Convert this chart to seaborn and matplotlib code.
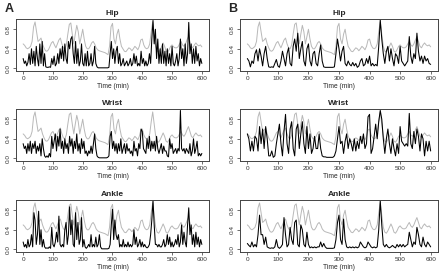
import numpy as np
import pandas as pd
import matplotlib
matplotlib.use("Agg")
import matplotlib.pyplot as plt
import seaborn as sns

# time grids (min)
t_fine = np.arange(0, 601, 4)    # column A, 4-min steps
t_coarse = np.arange(0, 601, 5)  # column B and reference, 5-min steps

# reference signal (grey), same in every panel
reference = [
    0.50, 0.47, 0.42, 0.40, 0.42, 0.45, 0.55, 0.85, 0.95, 0.75,  # 0-45
    0.55, 0.58, 0.62, 0.50, 0.42, 0.36, 0.35, 0.38, 0.45, 0.52,  # 50-95
    0.55, 0.48, 0.42, 0.50, 0.58, 0.62, 0.50, 0.42, 0.40, 0.48,  # 100-145
    0.70, 0.90, 0.93, 0.70, 0.50, 0.70, 0.88, 0.75, 0.50, 0.65,  # 150-195
    0.80, 0.60, 0.45, 0.40, 0.40, 0.45, 0.52, 0.55, 0.50, 0.42,  # 200-245
    0.38, 0.36, 0.35, 0.34, 0.33, 0.32, 0.30, 0.28, 0.45, 0.85,  # 250-295
    0.92, 0.60, 0.50, 0.70, 0.80, 0.60, 0.45, 0.40, 0.35, 0.34,  # 300-345
    0.38, 0.42, 0.40, 0.36, 0.40, 0.45, 0.42, 0.38, 0.45, 0.58,  # 350-395
    0.60, 0.48, 0.42, 0.40, 0.42, 0.50, 0.75, 0.95, 0.70, 0.45,  # 400-445
    0.35, 0.33, 0.38, 0.45, 0.52, 0.45, 0.35, 0.33, 0.38, 0.45,  # 450-495
    0.48, 0.44, 0.42, 0.42, 0.44, 0.50, 0.55, 0.48, 0.45, 0.50,  # 500-545
    0.58, 0.65, 0.55, 0.45, 0.42, 0.48, 0.52, 0.48, 0.46, 0.48,  # 550-595
    0.44,
]

# column A (4-min steps)
a_hip = [
    0.20, 0.10, 0.15, 0.05, 0.12, 0.30, 0.08, 0.40, 0.10, 0.35,
    0.05, 0.45, 0.20, 0.05, 0.50, 0.10, 0.55, 0.05, 0.30, 0.03,
    0.02, 0.02, 0.03, 0.02, 0.20, 0.08, 0.25, 0.05, 0.10, 0.30,
    0.10, 0.40, 0.20, 0.45, 0.15, 0.50, 0.20, 0.10, 0.55, 0.40,
    0.60, 0.65, 0.30, 0.10, 0.55, 0.10, 0.40, 0.05, 0.15, 0.50,
    0.10, 0.05, 0.30, 0.05, 0.35, 0.05, 0.10, 0.30, 0.05, 0.15,
    0.45, 0.10, 0.03, 0.01, 0.01, 0.01, 0.01, 0.01, 0.01, 0.01,
    0.01, 0.01, 0.02, 0.30, 0.55, 0.20, 0.40, 0.10, 0.35, 0.45,
    0.10, 0.30, 0.05, 0.10, 0.20, 0.05, 0.10, 0.15, 0.05, 0.10,
    0.20, 0.05, 0.10, 0.30, 0.10, 0.25, 0.05, 0.10, 0.05, 0.35,
    0.10, 0.20, 0.05, 0.15, 0.05, 0.10, 0.30, 0.10, 0.60, 0.98,
    0.50, 0.80, 0.20, 0.60, 0.10, 0.40, 0.10, 0.50, 0.10, 0.35,
    0.05, 0.40, 0.10, 0.30, 0.05, 0.45, 0.10, 0.05, 0.15, 0.30,
    0.05, 0.20, 0.60, 0.20, 0.40, 0.05, 0.50, 0.10, 0.30, 0.94,
    0.30, 0.50, 0.10, 0.40, 0.10, 0.45, 0.15, 0.30, 0.05, 0.20,
    0.10,
]
a_wrist = [
    0.30, 0.20, 0.25, 0.10, 0.30, 0.15, 0.35, 0.10, 0.30, 0.20,
    0.35, 0.10, 0.25, 0.15, 0.30, 0.05, 0.40, 0.20, 0.05, 0.02,
    0.05, 0.02, 0.10, 0.03, 0.45, 0.20, 0.35, 0.50, 0.15, 0.45,
    0.25, 0.60, 0.20, 0.35, 0.10, 0.40, 0.20, 0.30, 0.10, 0.45,
    0.25, 0.40, 0.10, 0.35, 0.20, 0.50, 0.15, 0.30, 0.10, 0.40,
    0.20, 0.35, 0.10, 0.15, 0.05, 0.15, 0.10, 0.25, 0.10, 0.30,
    0.50, 0.20, 0.05, 0.02, 0.01, 0.01, 0.01, 0.01, 0.01, 0.01,
    0.01, 0.02, 0.05, 0.45, 0.55, 0.20, 0.35, 0.15, 0.30, 0.10,
    0.30, 0.15, 0.40, 0.10, 0.20, 0.30, 0.10, 0.30, 0.15, 0.20,
    0.10, 0.15, 0.05, 0.35, 0.15, 0.20, 0.05, 0.30, 0.20, 0.60,
    0.55, 0.20, 0.15, 0.10, 0.40, 0.20, 0.45, 0.15, 0.35, 0.20,
    0.35, 0.15, 0.45, 0.20, 0.10, 0.20, 0.30, 0.10, 0.25, 0.15,
    0.15, 0.05, 0.03, 0.40, 0.20, 0.30, 0.10, 0.15, 0.20, 0.10,
    0.20, 0.15, 0.98, 0.20, 0.15, 0.20, 0.10, 0.20, 0.15, 0.10,
    0.30, 0.05, 0.15, 0.40, 0.10, 0.20, 0.35, 0.05, 0.10, 0.05,
    0.10,
]
a_ankle = [
    0.15, 0.05, 0.10, 0.03, 0.20, 0.05, 0.10, 0.30, 0.05, 0.75,
    0.60, 0.10, 0.30, 0.78, 0.10, 0.40, 0.05, 0.20, 0.05, 0.02,
    0.03, 0.02, 0.05, 0.02, 0.45, 0.10, 0.05, 0.15, 0.35, 0.15,
    0.68, 0.10, 0.05, 0.10, 0.05, 0.40, 0.55, 0.10, 0.30, 0.87,
    0.30, 0.60, 0.10, 0.05, 0.75, 0.20, 0.55, 0.10, 0.20, 0.65,
    0.05, 0.20, 0.05, 0.02, 0.05, 0.10, 0.05, 0.30, 0.05, 0.10,
    0.05, 0.25, 0.05, 0.10, 0.30, 0.05, 0.01, 0.01, 0.01, 0.01,
    0.01, 0.01, 0.02, 0.10, 0.50, 0.82, 0.20, 0.60, 0.30, 0.20,
    0.30, 0.05, 0.10, 0.05, 0.20, 0.05, 0.10, 0.05, 0.15, 0.05,
    0.10, 0.05, 0.10, 0.40, 0.10, 0.25, 0.05, 0.10, 0.20, 0.05,
    0.15, 0.05, 0.10, 0.05, 0.03, 0.05, 0.10, 0.30, 0.60, 1.00,
    0.50, 0.10, 0.10, 0.05, 0.10, 0.05, 0.05, 0.10, 0.20, 0.05,
    0.10, 0.30, 0.10, 0.25, 0.05, 0.15, 0.05, 0.10, 0.20, 0.10,
    0.30, 0.05, 0.15, 0.50, 0.10, 0.35, 0.15, 0.05, 0.50, 0.85,
    0.30, 0.50, 0.10, 0.30, 0.05, 0.35, 0.10, 0.25, 0.05, 0.20,
    0.10,
]

# column B (5-min steps)
b_hip = [
    0.20, 0.15, 0.03, 0.15, 0.10, 0.30, 0.38, 0.15, 0.40, 0.25,
    0.05, 0.30, 0.45, 0.20, 0.03, 0.02, 0.03, 0.02, 0.10, 0.18,
    0.05, 0.02, 0.15, 0.35, 0.20, 0.05, 0.30, 0.42, 0.10, 0.05,
    0.45, 0.60, 0.35, 0.72, 0.20, 0.40, 0.55, 0.15, 0.05, 0.40,
    0.50, 0.15, 0.05, 0.30, 0.35, 0.10, 0.05, 0.30, 0.48, 0.15,
    0.03, 0.02, 0.02, 0.02, 0.02, 0.02, 0.02, 0.03, 0.30, 0.60,
    0.40, 0.15, 0.35, 0.45, 0.10, 0.05, 0.15, 0.08, 0.05, 0.12,
    0.05, 0.10, 0.02, 0.05, 0.15, 0.20, 0.05, 0.08, 0.20, 0.10,
    0.25, 0.05, 0.10, 0.05, 0.08, 0.05, 0.45, 0.99, 0.60, 0.30,
    0.10, 0.35, 0.45, 0.15, 0.40, 0.20, 0.05, 0.30, 0.25, 0.10,
    0.45, 0.15, 0.10, 0.05, 0.10, 0.15, 0.65, 0.25, 0.10, 0.30,
    0.20, 0.72, 0.35, 0.15, 0.25, 0.10, 0.25, 0.15, 0.20, 0.10,
    0.08,
]
b_wrist = [
    0.50, 0.40, 0.15, 0.35, 0.15, 0.45, 0.40, 0.15, 0.65, 0.30,
    0.60, 0.20, 0.65, 0.40, 0.05, 0.05, 0.15, 0.02, 0.05, 0.30,
    0.50, 0.70, 0.30, 0.05, 0.55, 0.90, 0.30, 0.10, 0.60, 0.75,
    0.20, 0.05, 0.60, 0.70, 0.20, 0.50, 0.75, 0.30, 0.10, 0.65,
    0.20, 0.50, 0.10, 0.20, 0.45, 0.20, 0.20, 0.50, 0.20, 0.05,
    0.03, 0.03, 0.02, 0.02, 0.02, 0.02, 0.02, 0.05, 0.15, 0.40,
    0.65, 0.30, 0.35, 0.10, 0.35, 0.50, 0.20, 0.40, 0.30, 0.15,
    0.40, 0.15, 0.35, 0.20, 0.45, 0.30, 0.50, 0.20, 0.30, 0.85,
    0.90, 0.10, 0.20, 0.45, 0.70, 0.40, 0.75, 0.98, 0.80, 0.40,
    0.10, 0.40, 0.60, 0.30, 0.10, 0.40, 0.20, 0.05, 0.30, 0.10,
    0.65, 0.35, 0.30, 0.25, 0.30, 0.25, 0.92, 0.30, 0.20, 0.55,
    0.30, 0.60, 0.45, 0.15, 0.50, 0.40, 0.05, 0.35, 0.15, 0.35,
    0.15,
]
b_ankle = [
    0.12, 0.08, 0.05, 0.15, 0.05, 0.10, 0.05, 0.30, 0.70, 0.30,
    0.30, 0.10, 0.25, 0.05, 0.03, 0.02, 0.03, 0.02, 0.05, 0.20,
    0.05, 0.02, 0.05, 0.10, 0.65, 0.30, 0.05, 0.10, 0.45, 0.20,
    0.10, 0.55, 0.60, 0.10, 0.05, 0.50, 0.40, 0.10, 0.05, 0.35,
    0.10, 0.03, 0.05, 0.03, 0.05, 0.03, 0.05, 0.05, 0.15, 0.05,
    0.12, 0.05, 0.02, 0.02, 0.02, 0.02, 0.02, 0.03, 0.20, 0.55,
    0.70, 0.20, 0.10, 0.62, 0.20, 0.05, 0.03, 0.05, 0.03, 0.05,
    0.03, 0.05, 0.03, 0.05, 0.15, 0.10, 0.05, 0.03, 0.05, 0.15,
    0.10, 0.05, 0.03, 0.05, 0.03, 0.05, 0.40, 1.00, 0.50, 0.10,
    0.05, 0.10, 0.05, 0.03, 0.05, 0.08, 0.05, 0.03, 0.10, 0.05,
    0.10, 0.05, 0.10, 0.05, 0.08, 0.10, 0.35, 0.20, 0.05, 0.15,
    0.10, 0.45, 0.30, 0.10, 0.05, 0.25, 0.10, 0.05, 0.15, 0.10,
    0.05,
]

sns.set_style("ticks")
plt.rcParams["font.family"] = ["Liberation Sans", "DejaVu Sans"]

fig = plt.figure(figsize=(4.46, 2.78), dpi=100)

lefts = [16 / 446, 240 / 446]
widths = [193 / 446, 198 / 446]
bottoms = [1 - 71 / 278, 1 - 161 / 278, 1 - 252 / 278]
height = 52 / 278

panels = [
    [("Hip", a_hip), ("Wrist", a_wrist), ("Ankle", a_ankle)],
    [("Hip", b_hip), ("Wrist", b_wrist), ("Ankle", b_ankle)],
]
ref_df = pd.DataFrame({"time": t_coarse, "value": reference})

for col in range(2):
    t = t_fine if col == 0 else t_coarse
    for row in range(3):
        name, vals = panels[col][row]
        ax = fig.add_axes([lefts[col], bottoms[row], widths[col], height])
        df = pd.DataFrame({"time": t, "value": vals})
        sns.lineplot(data=ref_df, x="time", y="value", ax=ax,
                     color="#b8b8b8", linewidth=0.7)
        sns.lineplot(data=df, x="time", y="value", ax=ax,
                     color="black", linewidth=0.75)
        ax.set_xlim(-24, 624)
        ax.set_ylim(-0.055, 1.01)
        ax.set_xticks([0, 100, 200, 300, 400, 500, 600])
        ax.set_yticks([0.0, 0.4, 0.8])
        ax.set_yticklabels(["0.0", "0.4", "0.8"], rotation=90, va="center")
        ax.tick_params(labelsize=4.6, length=2, width=0.5, pad=1.5, colors="#333333")
        for s in ax.spines.values():
            s.set_linewidth(0.7)
            s.set_color("#444444")
        ax.set_title(name, fontsize=6, fontweight="bold", pad=3)
        ax.set_xlabel("Time (min)", fontsize=4.8, labelpad=1.5)
        ax.set_ylabel("")

fig.text(5 / 446, 1 - 9 / 278, "A", fontsize=9, fontweight="bold", va="center")
fig.text(228 / 446, 1 - 9 / 278, "B", fontsize=9, fontweight="bold", va="center")

fig.savefig("out.png", dpi=100)
